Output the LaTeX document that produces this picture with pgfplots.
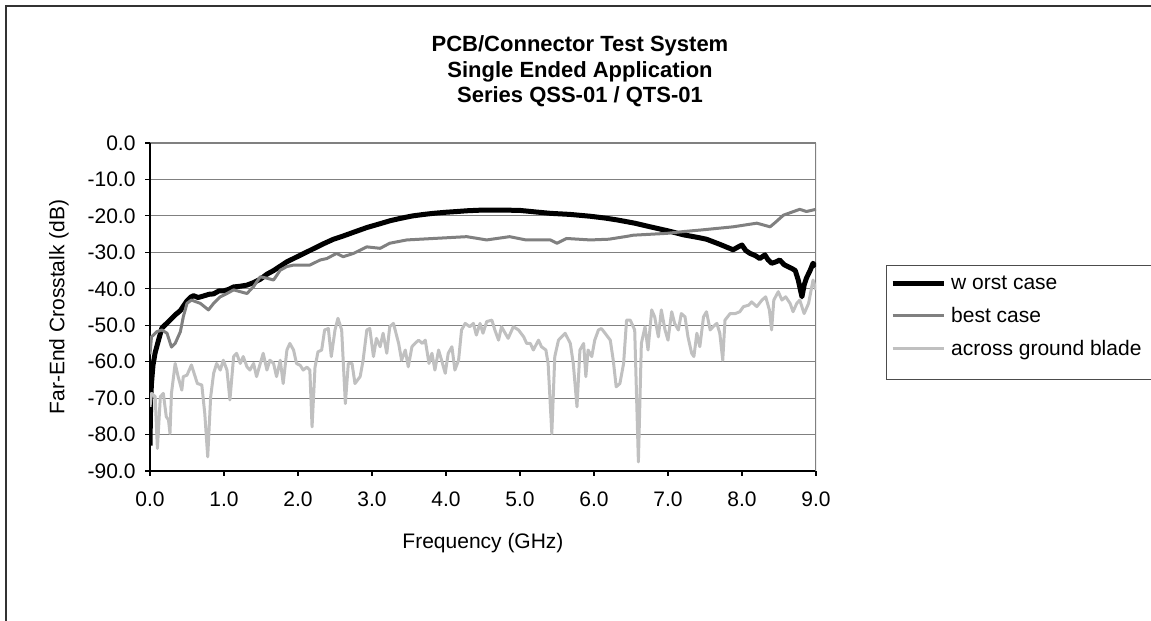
\documentclass[border=0pt]{standalone}
\usepackage{fontspec}
\setmainfont{Liberation Sans}
\usepackage{pgfplots}
\pgfplotsset{compat=1.18}
\newcommand{\fs}{\fontsize{21}{25}\selectfont}
\newcommand{\ft}{\fontsize{22}{26}\selectfont\bfseries}
\definecolor{bestc}{HTML}{808080}
\definecolor{acrossc}{HTML}{C0C0C0}
\definecolor{gridc}{HTML}{808080}
\begin{document}
\begin{tikzpicture}
\draw[line width=1.5pt, black!80] (6pt,-50pt) rectangle (1300pt,615pt);
\node[font=\ft, anchor=base] at (580pt,569pt) {PCB/Connector Test System};
\node[font=\ft, anchor=base] at (580pt,543.5pt) {Single Ended Application};
\node[font=\ft, anchor=base] at (580pt,518pt) {Series QSS-01 / QTS-01};
\begin{axis}[
  at={(150pt,150pt)}, anchor=south west,
  scale only axis, width=666pt, height=328pt,
  xmin=0, xmax=9, ymin=-90, ymax=0,
  xtick={0,1,2,3,4,5,6,7,8,9},
  ytick={-90,-80,-70,-60,-50,-40,-30,-20,-10,0},
  axis x line*=bottom, axis y line*=left,
  axis line style={black, line width=1.5pt},
  ymajorgrids, grid style={gridc, line width=1.2pt},
  tick align=outside, major tick length=5pt,
  tick style={black, line width=1.2pt},
  /pgf/number format/fixed,
  /pgf/number format/fixed zerofill,
  /pgf/number format/precision=1,
  /pgf/number format/assume math mode=true,
  tick label style={font=\fs, black},
  xticklabel style={yshift=-12pt},
  yticklabel style={xshift=-6pt},
  xlabel={Frequency (GHz)}, ylabel={Far-End Crosstalk (dB)},
  label style={font=\fs},
  xlabel style={at={(axis description cs:0.5,-0.2195)}, anchor=center},
  ylabel style={at={(axis description cs:-0.1366,0.5)}, anchor=center},
  legend image code/.code={\draw[#1] (0pt,0pt) -- (51pt,0pt);},
  legend style={at={(axis description cs:1.1111,0.5945)}, anchor=north west,
    draw=none, fill=none, inner sep=0pt, row sep=16pt, column sep=5pt,
    font=\fs, nodes={inner sep=0pt}},
  legend cell align=left,
]
\draw[gridc, line width=1.2pt] (axis cs:9,-90) -- (axis cs:9,0);
\addplot[black, line width=5pt, line join=round] table {
0.00 -83.0
0.005 -76
0.01 -70
0.02 -66
0.04 -61
0.07 -57.5
0.11 -54.5
0.16 -50.8
0.20 -50.0
0.27 -48.6
0.35 -47.0
0.41 -46.0
0.50 -43.3
0.55 -42.3
0.59 -41.9
0.65 -42.4
0.72 -42.0
0.80 -41.5
0.86 -41.4
0.93 -40.6
0.99 -40.6
1.06 -40.2
1.13 -39.5
1.22 -39.3
1.31 -39.0
1.40 -38.3
1.49 -37.4
1.58 -36.0
1.67 -35.0
1.76 -33.8
1.85 -32.6
1.94 -31.7
2.03 -30.8
2.20 -29.1
2.35 -27.6
2.48 -26.4
2.60 -25.6
2.75 -24.5
2.93 -23.2
3.10 -22.2
3.25 -21.3
3.38 -20.7
3.55 -20.0
3.70 -19.6
3.83 -19.3
4.00 -19.0
4.15 -18.8
4.28 -18.6
4.50 -18.4
4.75 -18.4
5.00 -18.5
5.20 -18.9
5.41 -19.3
5.68 -19.6
5.95 -20.1
6.15 -20.6
6.31 -21.1
6.55 -22.0
6.76 -23.0
7.00 -24.1
7.21 -25.2
7.40 -25.9
7.52 -26.4
7.70 -27.8
7.88 -29.3
7.95 -28.5
8.00 -28.0
8.05 -29.5
8.11 -30.3
8.18 -30.9
8.24 -31.7
8.31 -30.7
8.35 -32.0
8.40 -33.0
8.46 -32.6
8.51 -32.1
8.57 -33.4
8.63 -34.0
8.68 -34.5
8.72 -35.0
8.76 -37.6
8.81 -42.2
8.84 -39.0
8.87 -37.1
8.92 -35.0
8.96 -33.0
9.00 -33.9
};
\addlegendentry{w orst case}
\addplot[bestc, line width=3pt, line join=round] table {
0.00 -58.0
0.02 -53.2
0.09 -51.8
0.16 -51.3
0.23 -52.2
0.29 -56.0
0.34 -55.0
0.41 -51.8
0.45 -47.7
0.50 -44.0
0.56 -43.1
0.68 -44.0
0.79 -45.8
0.86 -44.0
0.95 -42.2
1.04 -41.3
1.13 -40.3
1.22 -40.8
1.31 -41.3
1.40 -39.4
1.49 -36.7
1.58 -37.1
1.67 -37.6
1.76 -34.9
1.85 -33.9
1.94 -33.5
2.03 -33.5
2.16 -33.5
2.30 -32.1
2.39 -31.7
2.52 -30.3
2.61 -31.2
2.75 -30.3
2.93 -28.5
3.11 -28.9
3.24 -27.5
3.47 -26.6
3.83 -26.2
4.28 -25.7
4.55 -26.6
4.86 -25.7
5.08 -26.6
5.41 -26.6
5.50 -27.5
5.63 -26.2
5.95 -26.6
6.20 -26.4
6.45 -25.6
6.53 -25.3
6.98 -24.8
7.21 -24.3
7.43 -23.9
7.88 -23.0
8.20 -22.0
8.38 -23.0
8.45 -21.8
8.56 -19.8
8.78 -18.2
8.87 -18.8
9.00 -18.2
};
\addlegendentry{best case}
\addplot[acrossc, line width=3pt, line join=round] table {
0.00 -72.4
0.02 -68.7
0.07 -69.6
0.10 -83.8
0.14 -69.6
0.18 -68.7
0.22 -75.1
0.25 -76.0
0.27 -79.7
0.29 -68.7
0.34 -60.5
0.38 -64.1
0.43 -67.8
0.45 -64.1
0.50 -63.7
0.56 -60.9
0.61 -64.1
0.64 -66.0
0.70 -66.4
0.74 -74.2
0.78 -86.1
0.82 -69.6
0.86 -63.2
0.90 -60.5
0.95 -62.3
0.99 -59.6
1.04 -62.3
1.08 -70.5
1.13 -58.6
1.17 -57.7
1.22 -60.5
1.26 -58.6
1.31 -61.4
1.35 -62.3
1.40 -60.5
1.44 -64.1
1.49 -60.5
1.53 -57.7
1.58 -62.3
1.62 -59.6
1.67 -60.5
1.71 -64.1
1.76 -59.6
1.80 -66.0
1.85 -56.8
1.89 -55.0
1.94 -56.8
1.98 -60.5
2.03 -61.0
2.07 -62.3
2.12 -61.5
2.16 -62.3
2.19 -77.9
2.23 -61.5
2.27 -57.3
2.32 -56.8
2.36 -51.3
2.41 -50.9
2.45 -58.6
2.50 -51.3
2.54 -48.1
2.59 -51.3
2.64 -71.5
2.68 -60.5
2.73 -60.5
2.77 -66.0
2.84 -64.1
2.88 -59.6
2.93 -51.3
2.97 -50.9
3.02 -58.6
3.06 -53.6
3.11 -55.9
3.15 -52.2
3.20 -57.7
3.24 -50.4
3.29 -49.5
3.36 -55.0
3.40 -59.6
3.45 -56.8
3.49 -61.4
3.54 -55.9
3.58 -55.0
3.63 -54.1
3.68 -55.0
3.72 -54.1
3.77 -60.5
3.81 -57.7
3.85 -62.3
3.90 -56.8
3.94 -59.6
3.99 -63.2
4.03 -57.7
4.08 -55.9
4.12 -62.3
4.17 -59.6
4.21 -51.3
4.26 -49.5
4.32 -50.4
4.37 -49.5
4.41 -52.7
4.46 -49.5
4.50 -52.2
4.55 -49.0
4.62 -48.6
4.66 -51.3
4.71 -54.1
4.75 -50.4
4.80 -52.2
4.84 -53.6
4.91 -50.4
4.98 -51.3
5.05 -53.2
5.09 -55.0
5.14 -55.0
5.18 -56.8
5.25 -54.1
5.29 -55.9
5.35 -56.8
5.38 -60.5
5.43 -79.7
5.47 -58.6
5.52 -54.1
5.61 -52.2
5.68 -55.0
5.72 -60.5
5.77 -72.4
5.81 -56.8
5.86 -55.0
5.89 -64.1
5.92 -56.8
5.97 -58.6
6.01 -54.1
6.06 -51.3
6.10 -50.9
6.15 -52.2
6.22 -54.1
6.26 -59.6
6.30 -66.9
6.35 -66.0
6.40 -60.5
6.44 -48.6
6.49 -48.6
6.55 -51.3
6.60 -87.5
6.64 -55.0
6.69 -50.4
6.73 -56.8
6.78 -45.8
6.82 -47.7
6.87 -53.2
6.91 -45.8
6.96 -51.3
7.00 -54.1
7.05 -46.3
7.09 -49.5
7.14 -51.3
7.18 -46.8
7.23 -47.7
7.27 -53.2
7.32 -57.7
7.35 -58.6
7.39 -52.2
7.43 -55.9
7.48 -47.7
7.52 -46.3
7.57 -51.3
7.61 -50.4
7.66 -49.5
7.70 -52.2
7.74 -59.6
7.77 -48.6
7.84 -46.8
7.91 -46.8
7.97 -46.3
8.02 -44.9
8.09 -44.5
8.13 -43.6
8.20 -44.9
8.27 -43.1
8.32 -42.2
8.37 -45.8
8.40 -51.3
8.43 -43.1
8.49 -40.8
8.54 -43.1
8.59 -42.2
8.65 -44.0
8.69 -46.3
8.74 -44.0
8.78 -43.1
8.84 -46.8
8.90 -44.0
8.96 -37.6
9.00 -40.3
};
\addlegendentry{across ground blade}
\end{axis}
\draw[black!70, line width=1pt] (886pt,241pt) rectangle (1300pt,355pt);
\pgfresetboundingbox
\useasboundingbox (0pt,0pt) rectangle (1151pt,621pt);
\end{tikzpicture}
\end{document}
